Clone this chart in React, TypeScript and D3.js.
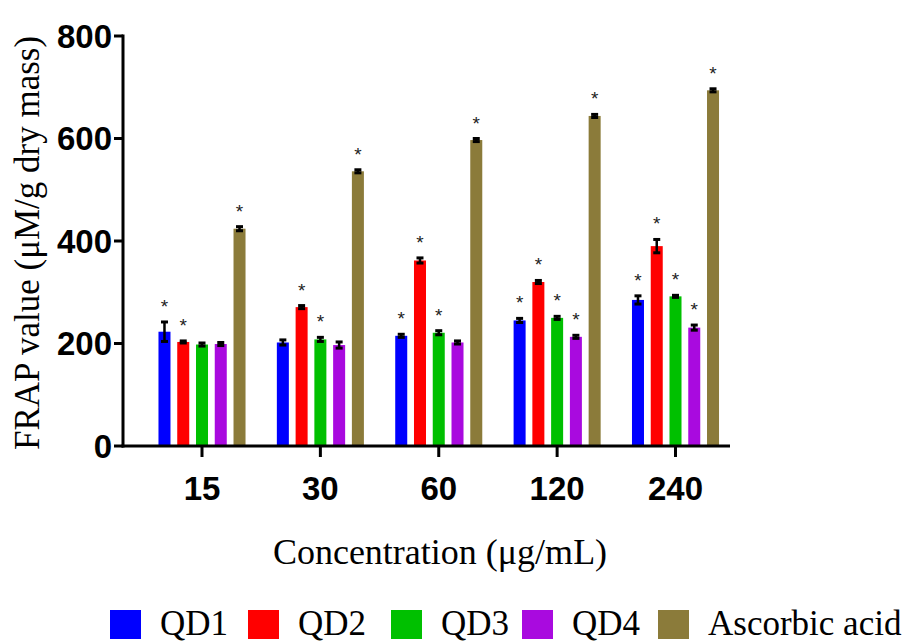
import { useEffect } from 'react';
import * as d3 from 'd3';

const concentrations = ['15', '30', '60', '120', '240'];
const seriesNames = ['QD1', 'QD2', 'QD3', 'QD4', 'Ascorbic acid'];
const seriesColors = ['#0000ff', '#ff0000', '#00c000', '#a90adf', '#8b7b3a'];

const qd1 = [223, 202, 215, 245, 285];
const qd2 = [203, 271, 362, 320, 390];
const qd3 = [198, 208, 221, 250, 292];
const qd4 = [199, 197, 202, 213, 231];
const ascorbic = [424, 536, 597, 644, 694];

const qd1Err = [19, 5, 3, 4, 8];
const qd2Err = [2, 3, 5, 3, 13];
const qd3Err = [3, 4, 4, 3, 2];
const qd4Err = [3, 6, 3, 3, 5];
const ascorbicErr = [4, 3, 3, 3, 3];

// 1 = significance star drawn above the bar
const qd1Star = [1, 0, 1, 1, 1];
const qd2Star = [1, 1, 1, 1, 1];
const qd3Star = [0, 1, 1, 1, 1];
const qd4Star = [0, 0, 0, 1, 1];
const ascorbicStar = [1, 1, 1, 1, 1];

const yTicks = [0, 200, 400, 600, 800];

const W = 912;
const H = 643;

const values = [qd1, qd2, qd3, qd4, ascorbic];
const errors = [qd1Err, qd2Err, qd3Err, qd4Err, ascorbicErr];
const stars = [qd1Star, qd2Star, qd3Star, qd4Star, ascorbicStar];

const boldFont = '"Liberation Sans", Arial, sans-serif';
const serifFont = '"Liberation Serif", "Times New Roman", serif';

export default function App() {
  useEffect(() => {
    document.body.style.margin = '0';
  }, []);

  const y = d3.scaleLinear().domain([0, 800]).range([446, 36]);
  const x = d3.scalePoint<string>().domain(concentrations).range([202, 675.5]);
  const inner = d3
    .scaleBand<string>()
    .domain(seriesNames)
    .range([-46.9, 46.9])
    .paddingInner(0.36)
    .paddingOuter(0.18);
  const bw = inner.bandwidth();

  const axisLeft = 123;
  const axisRight = 730;

  return (
    <svg width={W} height={H} style={{ display: 'block', background: '#fff' }}>
      {/* bars */}
      {seriesNames.map((s, si) =>
        concentrations.map((c, ci) => {
          const bx = (x(c) ?? 0) + (inner(s) ?? 0);
          return (
            <rect
              key={s + c}
              x={bx}
              y={y(values[si][ci])}
              width={bw}
              height={y(0) - y(values[si][ci])}
              fill={seriesColors[si]}
            />
          );
        }),
      )}

      {/* error bars + stars */}
      {seriesNames.map((s, si) =>
        concentrations.map((c, ci) => {
          const cx = (x(c) ?? 0) + (inner(s) ?? 0) + bw / 2;
          const v = values[si][ci];
          const e = errors[si][ci];
          const top = y(v + e);
          const bot = y(v - e);
          return (
            <g key={'e' + s + c}>
              <line x1={cx} x2={cx} y1={top} y2={bot} stroke="#000" strokeWidth={2.5} />
              <line x1={cx - 3.5} x2={cx + 3.5} y1={top} y2={top} stroke="#000" strokeWidth={3} />
              <line x1={cx - 3.5} x2={cx + 3.5} y1={bot} y2={bot} stroke="#000" strokeWidth={3} />
              {stars[si][ci] ? (
                <text
                  x={cx}
                  y={top - 9}
                  textAnchor="middle"
                  fontFamily={boldFont}
                  fontSize={19}
                  fill="#222"
                >
                  *
                </text>
              ) : null}
            </g>
          );
        }),
      )}

      {/* y axis */}
      <line x1={axisLeft} x2={axisLeft} y1={y(800) - 1.5} y2={y(0) + 1.5} stroke="#000" strokeWidth={3} />
      {yTicks.map((t) => (
        <g key={'yt' + t}>
          <line x1={axisLeft - 9} x2={axisLeft} y1={y(t)} y2={y(t)} stroke="#000" strokeWidth={3} />
          <text
            x={axisLeft - 11}
            y={y(t)}
            dy="0.36em"
            textAnchor="end"
            fontFamily={boldFont}
            fontWeight="bold"
            fontSize={33}
          >
            {t}
          </text>
        </g>
      ))}

      {/* x axis */}
      <line x1={axisLeft - 1.5} x2={axisRight} y1={y(0)} y2={y(0)} stroke="#000" strokeWidth={3} />
      {concentrations.map((c) => (
        <g key={'xt' + c}>
          <line x1={x(c)} x2={x(c)} y1={y(0)} y2={y(0) + 11} stroke="#000" strokeWidth={3} />
          <text
            x={x(c)}
            y={500}
            textAnchor="middle"
            fontFamily={boldFont}
            fontWeight="bold"
            fontSize={33}
          >
            {c}
          </text>
        </g>
      ))}

      {/* axis titles */}
      <text x={440} y={564} textAnchor="middle" fontFamily={serifFont} fontSize={36}>
        Concentration (μg/mL)
      </text>
      <text
        transform={`translate(39,${(y(0) + y(800)) / 2 + 2}) rotate(-90)`}
        textAnchor="middle"
        fontFamily={serifFont}
        fontSize={35}
      >
        FRAP value (μM/g dry mass)
      </text>

      {/* legend */}
      {seriesNames.map((s, i) => {
        const lx = [110, 248, 391, 522, 658][i];
        return (
          <g key={'lg' + s}>
            <rect x={lx} y={610} width={31} height={29} fill={seriesColors[i]} />
            <text x={lx + 50} y={635} fontFamily={serifFont} fontSize={35}>
              {s}
            </text>
          </g>
        );
      })}
    </svg>
  );
}
